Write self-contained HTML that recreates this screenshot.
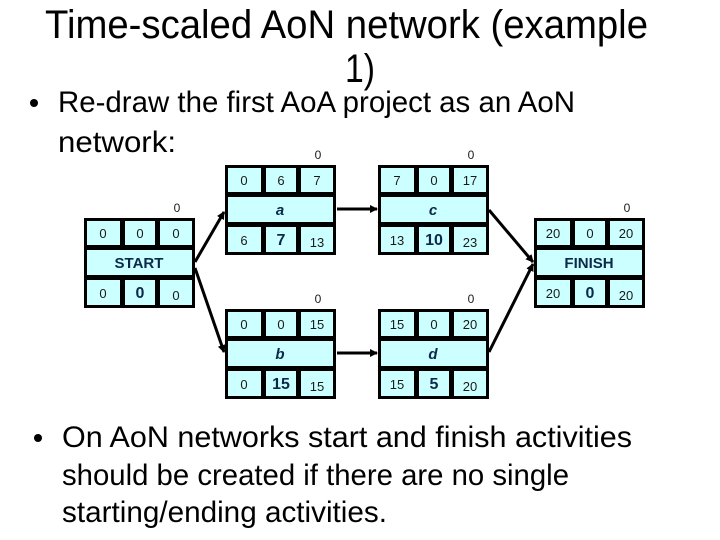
<!DOCTYPE html>
<html><head><meta charset="utf-8"><style>
html,body{margin:0;padding:0;background:#fff;}
svg{display:block;}
text{font-family:"Liberation Sans",sans-serif;}
.big{font-size:40px;fill:#000;}
.bul{font-size:30px;fill:#000;}
.c{font-size:13px;fill:#1a1a1a;text-anchor:middle;}
.cb{font-size:16px;font-weight:bold;fill:#0b2a4a;text-anchor:middle;}
.nm{font-size:15px;font-weight:bold;font-style:italic;fill:#0b2a4a;text-anchor:middle;}
.nmu{font-size:15px;font-weight:bold;fill:#0b2a4a;text-anchor:middle;}
.sl{font-size:12px;fill:#1a1a1a;text-anchor:middle;}
.k{fill:#000;}
.f{fill:#ccffff;}
</style></head><body>
<svg width="720" height="540" viewBox="0 0 720 540">
<defs>
<marker id="ah" markerWidth="8" markerHeight="8" refX="7" refY="4" orient="auto" markerUnits="userSpaceOnUse"><path d="M0,0 L8,4 L0,8 z" fill="#000"/></marker>
<g id="bx">
<rect class="k" x="0" y="0" width="111" height="90"/>
<rect class="f" x="3" y="3" width="33" height="24"/>
<rect class="f" x="41" y="3" width="30" height="24"/>
<rect class="f" x="76" y="3" width="32" height="24"/>
<rect class="f" x="3" y="32" width="105" height="25"/>
<rect class="f" x="3" y="62" width="33" height="25"/>
<rect class="f" x="41" y="62" width="30" height="25"/>
<rect class="f" x="76" y="62" width="32" height="25"/>
<text class="sl" x="93" y="-6">0</text>
</g>
</defs>
<text class="big" x="45" y="38" textLength="603" lengthAdjust="spacingAndGlyphs">Time-scaled AoN network (example</text>
<text class="big" x="345" y="82" textLength="30" lengthAdjust="spacingAndGlyphs">1)</text>
<circle cx="34" cy="103" r="4" fill="#000"/>
<text class="bul" x="58" y="112" textLength="517" lengthAdjust="spacingAndGlyphs">Re-draw the first AoA project as an AoN</text>
<text class="bul" x="58" y="152" textLength="118" lengthAdjust="spacingAndGlyphs">network:</text>
<circle cx="38" cy="438" r="4" fill="#000"/>
<text class="bul" x="62" y="447" textLength="570" lengthAdjust="spacingAndGlyphs">On AoN networks start and finish activities</text>
<text class="bul" x="62" y="485" textLength="507" lengthAdjust="spacingAndGlyphs">should be created if there are no single</text>
<text class="bul" x="62" y="522" textLength="325" lengthAdjust="spacingAndGlyphs">starting/ending activities.</text>

<g stroke="#000" stroke-width="3" marker-end="url(#ah)">
<line x1="195" y1="262" x2="224" y2="212"/>
<line x1="195" y1="268" x2="224" y2="352"/>
<line x1="337" y1="209" x2="377" y2="209"/>
<line x1="337" y1="353" x2="377" y2="353"/>
<line x1="489" y1="210" x2="533" y2="262"/>
<line x1="489" y1="352" x2="533" y2="264"/>
</g>

<g transform="translate(84,218)"><use href="#bx"/>
<text class="c" x="19" y="20">0</text><text class="c" x="56" y="20">0</text><text class="c" x="92" y="20">0</text>
<text class="nmu" x="55" y="50">START</text>
<text class="c" x="19" y="80">0</text><text class="cb" x="56" y="80">0</text><text class="c" x="92" y="82">0</text></g>

<g transform="translate(225,165)"><use href="#bx"/>
<text class="c" x="19" y="20">0</text><text class="c" x="56" y="20">6</text><text class="c" x="92" y="20">7</text>
<text class="nm" x="55" y="50">a</text>
<text class="c" x="19" y="80">6</text><text class="cb" x="56" y="80">7</text><text class="c" x="92" y="82">13</text></g>

<g transform="translate(225,309)"><use href="#bx"/>
<text class="c" x="19" y="20">0</text><text class="c" x="56" y="20">0</text><text class="c" x="92" y="20">15</text>
<text class="nm" x="55" y="50">b</text>
<text class="c" x="19" y="80">0</text><text class="cb" x="56" y="80">15</text><text class="c" x="92" y="82">15</text></g>

<g transform="translate(378,165)"><use href="#bx"/>
<text class="c" x="19" y="20">7</text><text class="c" x="56" y="20">0</text><text class="c" x="92" y="20">17</text>
<text class="nm" x="55" y="50">c</text>
<text class="c" x="19" y="80">13</text><text class="cb" x="56" y="80">10</text><text class="c" x="92" y="82">23</text></g>

<g transform="translate(378,309)"><use href="#bx"/>
<text class="c" x="19" y="20">15</text><text class="c" x="56" y="20">0</text><text class="c" x="92" y="20">20</text>
<text class="nm" x="55" y="50">d</text>
<text class="c" x="19" y="80">15</text><text class="cb" x="56" y="80">5</text><text class="c" x="92" y="82">20</text></g>

<g transform="translate(534,218)"><use href="#bx"/>
<text class="c" x="19" y="20">20</text><text class="c" x="56" y="20">0</text><text class="c" x="92" y="20">20</text>
<text class="nmu" x="55" y="50">FINISH</text>
<text class="c" x="19" y="80">20</text><text class="cb" x="56" y="80">0</text><text class="c" x="92" y="82">20</text></g>
</svg>
</body></html>
